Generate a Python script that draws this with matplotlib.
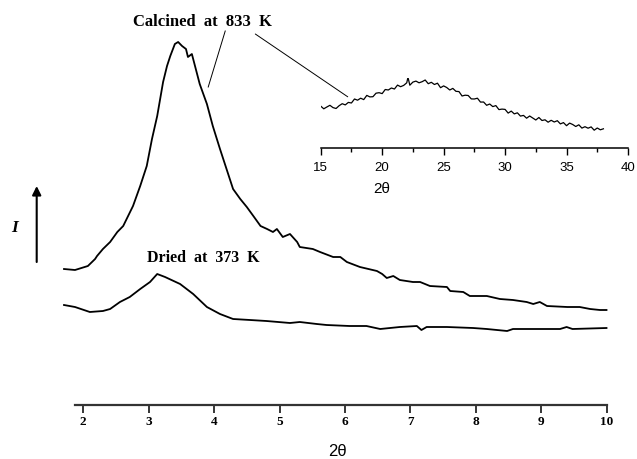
import matplotlib
matplotlib.use("Agg")
import matplotlib.pyplot as plt
from matplotlib.patches import ConnectionPatch
from matplotlib.ticker import MultipleLocator

# ---------------- data ----------------
calc_x = [1.705, 1.873, 2.07, 2.18, 2.21, 2.30, 2.41, 2.52, 2.61, 2.76, 2.87, 2.97, 3.05,
          3.13, 3.22, 3.28, 3.33, 3.40, 3.45, 3.51, 3.57, 3.60, 3.66, 3.78, 3.89, 3.98,
          4.09, 4.19, 4.29, 4.40, 4.50, 4.60, 4.71, 4.81, 4.90, 4.96, 5.05, 5.16, 5.27,
          5.31, 5.51, 5.62, 5.82, 5.93, 6.03, 6.23, 6.49, 6.57, 6.64, 6.74, 6.84, 7.04,
          7.15, 7.30, 7.56, 7.61, 7.81, 7.91, 8.17, 8.37, 8.57, 8.78, 8.88, 8.98, 9.09,
          9.40, 9.59, 9.75, 9.90, 10.0]
calc_y = [136, 135, 139, 146, 149, 156, 163, 173, 179, 199, 219, 239, 266,
          289, 323, 339, 349, 361, 363, 359, 356, 348, 351, 321, 301, 279,
          256, 236, 216, 206, 198, 189, 179, 176, 173, 176, 168, 171, 163,
          158, 156, 153, 148, 148, 143, 138, 134, 131, 127, 129, 125, 123,
          123, 119, 118, 114, 113, 109, 109, 106, 105, 103, 101, 103, 99,
          98, 98, 96, 95, 95]

dried_x = [1.705, 1.873, 2.10, 2.30, 2.41, 2.56, 2.71, 2.87, 3.02, 3.13, 3.25, 3.48, 3.68,
           3.89, 4.09, 4.29, 4.55, 4.80, 5.16, 5.31, 5.57, 5.72, 6.07, 6.33, 6.54, 6.84,
           7.10, 7.17, 7.25, 7.56, 7.96, 8.17, 8.48, 8.57, 9.29, 9.39, 9.48, 10.0]
dried_y = [100, 98, 93, 94, 96, 103, 108, 116, 123, 131, 128, 121, 111,
           98, 91, 86, 85, 84, 82, 83, 81, 80, 79, 79, 76, 78,
           79, 75, 78, 78, 77, 76, 74, 76, 76, 78, 76, 77]

inset_x = [15.00, 15.25, 15.50, 15.75, 16.00, 16.25, 16.50, 16.75, 17.00, 17.25, 17.50, 17.75,
           18.00, 18.25, 18.50, 18.75, 19.00, 19.25, 19.50, 19.75, 20.00, 20.25, 20.50, 20.75,
           21.00, 21.25, 21.50, 21.75, 22.00, 22.10, 22.25, 22.50, 22.75, 23.00, 23.25, 23.50,
           23.75, 24.00, 24.25, 24.50, 24.75, 25.00, 25.25, 25.50, 25.75, 26.00, 26.25, 26.50,
           26.75, 27.00, 27.25, 27.50, 27.75, 28.00, 28.25, 28.50, 28.75, 29.00, 29.25, 29.50,
           29.75, 30.00, 30.25, 30.50, 30.75, 31.00, 31.25, 31.50, 31.75, 32.00, 32.25, 32.50,
           32.75, 33.00, 33.25, 33.50, 33.75, 34.00, 34.25, 34.50, 34.75, 35.00, 35.25, 35.50,
           35.75, 36.00, 36.25, 36.50, 36.75, 37.00, 37.25, 37.50, 37.75, 38.00]
inset_y = [42.2, 39.5, 41.3, 43.0, 40.7, 39.8, 42.6, 44.6, 43.4, 45.9, 45.3, 49.3,
           48.1, 50.1, 48.7, 52.9, 51.4, 51.6, 55.1, 55.6, 54.7, 58.8, 58.3, 60.3,
           59.3, 63.2, 61.6, 62.9, 65.5, 71.0, 63.1, 66.2, 67.2, 65.5, 66.6, 68.3,
           64.6, 66.0, 63.8, 65.1, 60.6, 62.4, 60.8, 58.3, 59.9, 57.0, 56.7, 52.3,
           53.1, 52.8, 49.4, 49.3, 50.1, 46.2, 46.3, 43.0, 44.3, 41.7, 42.7, 38.7,
           39.2, 38.9, 35.2, 37.2, 34.4, 35.5, 32.2, 32.9, 30.1, 32.3, 30.3, 28.3,
           30.8, 27.8, 28.5, 26.1, 28.0, 26.3, 27.6, 24.4, 25.7, 22.6, 25.2, 23.8,
           21.8, 23.5, 20.2, 21.6, 20.1, 21.4, 18.1, 20.3, 18.5, 19.5]

main_ticks = [2, 3, 4, 5, 6, 7, 8, 9, 10]
main_ticklabels = ["2", "3", "4", "5", "6", "7", "8", "9", "10"]
inset_ticks = [15, 20, 25, 30, 35, 40]
inset_ticklabels = ["15", "20", "25", "30", "35", "40"]

# ---------------- figure ----------------
W, H = 637, 460
fig = plt.figure(figsize=(W / 100, H / 100), dpi=100)

serif = "Liberation Serif"
sans = "Liberation Sans"

# main axes
ax = fig.add_axes([75 / W, 1 - 406 / H, (606.5 - 75) / W, 376 / H])
ax.set_xlim(1.873, 10.0)
ax.set_ylim(0, 376)
ax.plot(calc_x, calc_y, color="black", lw=1.3, clip_on=False)
ax.plot(dried_x, dried_y, color="black", lw=1.3, clip_on=False)
for s in ("left", "right", "top"):
    ax.spines[s].set_visible(False)
ax.spines["bottom"].set_linewidth(1.6)
ax.spines["bottom"].set_color("#333333")
ax.set_yticks([])
ax.set_xticks(main_ticks)
ax.set_xticklabels(main_ticklabels, fontfamily=serif, fontweight="bold", fontsize=9.5)
ax.tick_params(axis="x", direction="out", length=5.5, width=1.1, pad=2, colors="black")
ax.patch.set_visible(False)

# inset axes
axi = fig.add_axes([320.7 / W, 1 - 149.3 / H, 307.3 / W, 70 / H])
axi.set_xlim(15, 40)
axi.set_ylim(0, 70)
axi.plot(inset_x, inset_y, color="black", lw=0.9)
for s in ("left", "right", "top"):
    axi.spines[s].set_visible(False)
axi.spines["bottom"].set_linewidth(1.1)
axi.set_yticks([])
axi.set_xticks(inset_ticks)
axi.set_xticklabels(inset_ticklabels, fontfamily=sans, fontsize=9.5)
axi.xaxis.set_minor_locator(MultipleLocator(2.5))
axi.tick_params(axis="x", which="major", direction="out", length=5, width=1, pad=4)
axi.tick_params(axis="x", which="minor", direction="out", length=3, width=1)
axi.patch.set_visible(False)

# labels
fig.text(337 / W, 1 - 452 / H, "2θ", fontfamily=sans, fontsize=12,
         ha="center", va="center")
fig.text(382 / W, 1 - 189 / H, "2θ", fontfamily=sans, fontsize=11,
         ha="center", va="center")

ax.text(3.83, 384, "Calcined  at  833  K", fontfamily=serif, fontweight="bold",
        fontsize=12, ha="center", va="center")
ax.text(3.84, 148, "Dried  at  373  K", fontfamily=serif, fontweight="bold",
        fontsize=11.5, ha="center", va="center")

# leader lines
ax.plot([4.17, 3.91], [374, 318], color="black", lw=0.7, clip_on=False)
con = ConnectionPatch(xyA=(4.63, 371), coordsA=ax.transData,
                      xyB=(17.2, 51.5), coordsB=axi.transData,
                      color="black", lw=0.7)
fig.add_artist(con)

# intensity arrow and label
ax.annotate("", xy=(36.7 / W, 1 - 187 / H), xytext=(36.7 / W, 1 - 263 / H),
            xycoords="figure fraction", textcoords="figure fraction",
            arrowprops=dict(arrowstyle="-|>", color="black", lw=1.5,
                            mutation_scale=13, shrinkA=0, shrinkB=0))
fig.text(15 / W, 1 - 228 / H, "I", fontfamily=serif, fontweight="bold",
         fontstyle="italic", fontsize=12.5, ha="center", va="center")

fig.savefig("out.png", dpi=100)
